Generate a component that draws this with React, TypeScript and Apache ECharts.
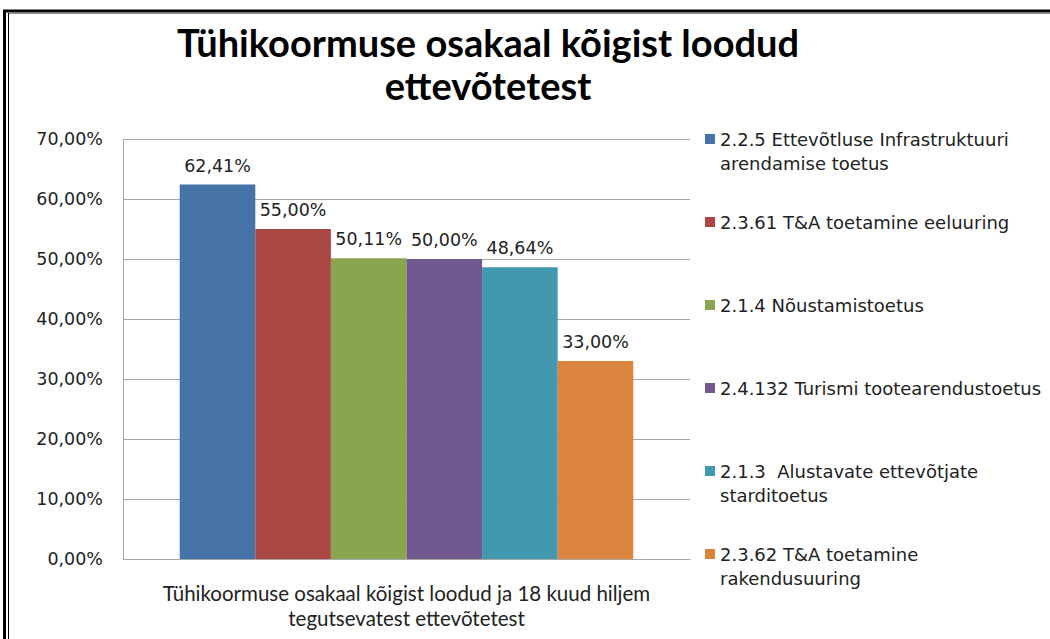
import React, { useEffect, useRef } from "react";
import * as echarts from "echarts";

const titleText = "Tühikoormuse osakaal kõigist loodud\nettevõtetest";
const categories = ["Tühikoormuse osakaal kõigist loodud ja 18 kuud hiljem\ntegutsevatest ettevõtetest"];
const seriesNames = [
  "2.2.5 Ettevõtluse Infrastruktuuri\narendamise toetus",
  "2.3.61 T&A toetamine eeluuring",
  "2.1.4 Nõustamistoetus",
  "2.4.132 Turismi tootearendustoetus",
  "2.1.3  Alustavate ettevõtjate\nstarditoetus",
  "2.3.62 T&A toetamine\nrakendusuuring",
];
const seriesValues = [62.41, 55.0, 50.11, 50.0, 48.64, 33.0];
const seriesColors = ["#4572A7", "#AA4643", "#89A54E", "#71588F", "#4198AF", "#DB843D"];
const yTicks = [0, 10, 20, 30, 40, 50, 60, 70];

const fmt = (v: number) => v.toFixed(2).replace(".", ",") + "%";

export default function App() {
  const ref = useRef<HTMLDivElement>(null);
  useEffect(() => {
    if (!ref.current) return;
    const chart = echarts.init(ref.current, null, { renderer: "svg" });
    const labelFont = "DejaVu Sans";
    chart.setOption({
      animation: false,
      backgroundColor: "#ffffff",
      title: {
        text: titleText,
        left: 488,
        top: 20,
        padding: 0,
        textAlign: "center",
        textStyle: {
          fontFamily: "Lato",
          fontWeight: "bold",
          fontSize: 38,
          lineHeight: 43,
          color: "#000000",
        },
      },
      legend: {
        orient: "vertical",
        left: 705,
        top: 103,
        padding: 0,
        itemGap: 11,
        itemWidth: 10,
        itemHeight: 10,
        icon: "rect",
        data: seriesNames,
        formatter: (name: string) =>
          name.indexOf("\n") >= 0 ? "\n" + name : "\n" + name + "\n",
        textStyle: {
          fontFamily: labelFont,
          fontSize: 18,
          lineHeight: 24,
          color: "#222222",
        },
      },
      grid: {
        left: 123,
        right: 360,
        top: 139,
        bottom: 80,
        containLabel: false,
      },
      xAxis: {
        type: "category",
        data: categories,
        axisLine: { show: true, lineStyle: { color: "#a6a6a6", width: 1 } },
        axisTick: { show: false },
        axisLabel: {
          margin: 21,
          fontFamily: "Lato",
          fontSize: 20.5,
          lineHeight: 25,
          color: "#222222",
          align: "center",
        },
      },
      yAxis: {
        type: "value",
        min: yTicks[0],
        max: yTicks[yTicks.length - 1],
        interval: 10,
        axisLine: { show: true, lineStyle: { color: "#a6a6a6", width: 1 } },
        axisTick: { show: false },
        splitLine: { show: true, lineStyle: { color: "#a6a6a6", width: 1 } },
        axisLabel: {
          margin: 20,
          fontFamily: labelFont,
          fontSize: 17.5,
          color: "#222222",
          formatter: (v: number) => fmt(v),
        },
      },
      series: seriesNames.map((name, i) => ({
        name,
        type: "bar",
        data: [seriesValues[i]],
        barGap: "0%",
        barCategoryGap: "20%",
        itemStyle: { color: seriesColors[i] },
        label: {
          show: true,
          position: "top",
          distance: 10,
          fontFamily: labelFont,
          fontSize: 17.5,
          color: "#222222",
          formatter: (p: any) => fmt(p.value),
        },
      })),
      graphic: [
        { type: "line", shape: { x1: 3, y1: 11, x2: 1050, y2: 11 }, style: { stroke: "#000", lineWidth: 3 } },
        { type: "line", shape: { x1: 8, y1: 13.5, x2: 1050, y2: 13.5 }, style: { stroke: "#888", lineWidth: 1 } },
        { type: "line", shape: { x1: 4.5, y1: 10, x2: 4.5, y2: 639 }, style: { stroke: "#000", lineWidth: 3 } },
        { type: "line", shape: { x1: 8.5, y1: 13, x2: 8.5, y2: 639 }, style: { stroke: "#000", lineWidth: 1 } },
      ],
    });
    return () => chart.dispose();
  }, []);
  return (
    <div
      ref={ref}
      style={{ position: "fixed", left: 0, top: 0, width: 1050, height: 639 }}
    />
  );
}
